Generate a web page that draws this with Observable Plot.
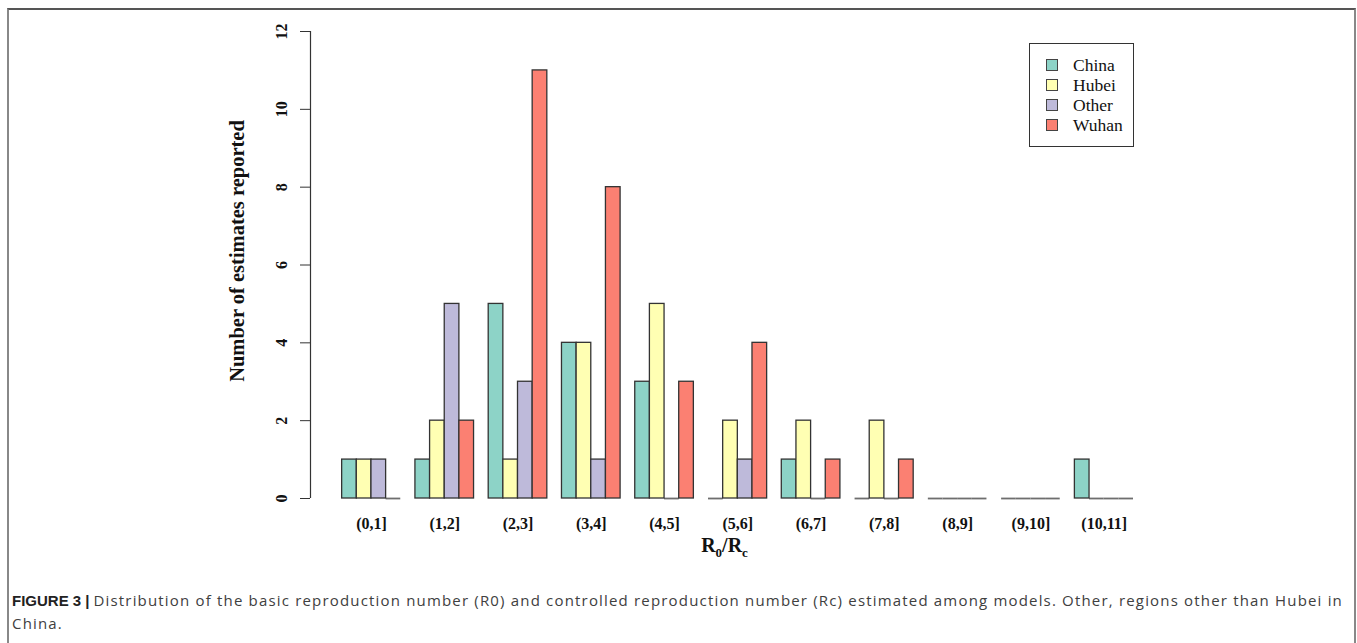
<!DOCTYPE html>
<html><head><meta charset="utf-8">
<script src="https://cdn.jsdelivr.net/npm/d3@7"></script>
<script src="https://cdn.jsdelivr.net/npm/@observablehq/plot@0.6"></script>
<style>
body{margin:0;background:#fff;}
#wrap{position:relative;width:1357px;height:643px;overflow:hidden;background:#fff;}
#frame{position:absolute;left:7px;top:8px;width:1345px;height:700px;border-top:2px solid #555;border-left:2px solid #888;border-right:2px solid #888;}
#chart{position:absolute;left:0;top:0;}
#legend{position:absolute;left:1029px;top:43px;width:103px;height:102px;border:1px solid #333;font-family:"Liberation Serif";font-size:17.5px;color:#111;}
.item{position:absolute;left:16px;height:20px;line-height:20px;}
.sw{position:absolute;left:0;top:4px;width:10px;height:10px;border:1px solid #444;}
.lab{position:absolute;left:27px;top:0;white-space:nowrap;}
#caption{position:absolute;left:12px;top:589px;font-family:"Open Sans";font-size:15px;color:#404040;line-height:23px;white-space:nowrap;}
#caption b{color:#222;font-family:"Liberation Sans";font-size:15px;}
</style></head>
<body><div id="wrap"><div id="frame"></div><div id="chart"></div><div id="legend"></div>
<div id="caption"><div id="cap1"><b>FIGURE 3 |</b> <span id="caprest">Distribution of the basic reproduction number (R0) and controlled reproduction number (Rc) estimated among models. Other, regions other than Hubei in</span></div><div id="cap2">China.</div></div></div>
<script>
const categories = ["(0,1]","(1,2]","(2,3]","(3,4]","(4,5]","(5,6]","(6,7]","(7,8]","(8,9]","(9,10]","(10,11]"];
const regions = ["China","Hubei","Other","Wuhan"];
const china = [1,1,5,4,3,0,1,0,0,0,1];
const hubei = [1,2,1,4,5,2,2,2,0,0,0];
const other = [1,5,3,1,0,1,0,0,0,0,0];
const wuhan = [0,2,11,8,3,4,1,1,0,0,0];
const colors = ["#8DD3C7","#FFFFB3","#BEBADA","#FB8072"];
const yTicks = [0,2,4,6,8,10,12];

const series = [china, hubei, other, wuhan];
const groupWidth = regions.length + 1;
const rows = [];
categories.forEach((c, gi) => {
  series.forEach((vals, si) => {
    rows.push({category: c, region: regions[si], value: vals[gi], slot: gi * groupWidth + 1 + si});
  });
});
const nonzero = rows.filter(d => d.value > 0);
const zeros = rows.filter(d => d.value === 0);

const serif = "Liberation Serif";
const plot = Plot.plot({
  width: 1357, height: 570,
  marginLeft: 327, marginRight: 224, marginTop: 31, marginBottom: 72,
  style: {fontFamily: serif, fontSize: "16px", fontWeight: "bold", background: "transparent", color: "#111"},
  x: {domain: [0, categories.length * groupWidth], axis: null},
  y: {domain: [0, 12], axis: null},
  color: {domain: regions, range: colors},
  marks: [
    Plot.ruleY(zeros, {x1: "slot", x2: d => d.slot + 1, y: 0, stroke: "#6e6e6e", strokeWidth: 1.8}),
    Plot.rect(nonzero, {x1: "slot", x2: d => d.slot + 1, y1: 0, y2: "value", fill: "region", stroke: "#333", strokeWidth: 1.3}),
    Plot.ruleX([0], {y1: 0, y2: 12, dx: -17, stroke: "#333", strokeWidth: 1.2}),
    Plot.axisY({ticks: yTicks, anchor: "left", label: null, dx: -17, tickSize: 10, tickPadding: 14, tickRotate: -90, stroke: "#333", fontSize: 16, fontWeight: "bold"}),
    Plot.text(categories, {x: (d, i) => i * groupWidth + 1 + regions.length / 2, y: 0, dy: 25, text: d => d, fontSize: 16, fontWeight: "bold"}),
    Plot.text(["Number of estimates reported"], {frameAnchor: "left", y: 6, dy: -14, dx: -90, rotate: -90, textAnchor: "middle", text: d => d, fontSize: 20.5, fontWeight: "bold"}),
    Plot.text(["R0/Rc"], {frameAnchor: "bottom", dy: 53, dx: -6, text: d => d, fontSize: 20, fontWeight: "bold", className: "xtitle"})
  ]
});
document.getElementById("chart").appendChild(plot);

// subscripts in x title
const t = d3.select(plot).select(".xtitle text");
t.text("");
t.append("tspan").text("R");
t.append("tspan").attr("dy", 5).attr("font-size", 13).text("0");
t.append("tspan").attr("dy", -5).text("/R");
t.append("tspan").attr("dy", 5).attr("font-size", 13).text("c");

// legend
const leg = d3.select("#legend");
regions.forEach((r, i) => {
  const it = leg.append("div").attr("class", "item").style("top", (11 + i * 20) + "px");
  it.append("div").attr("class", "sw").style("background", colors[i]);
  it.append("div").attr("class", "lab").text(r);
});

// caption line fit: spread the first line to the figure width
const rest = document.getElementById("caprest");
const cap1 = document.getElementById("cap1");
const target = 1331;
const w0 = cap1.getBoundingClientRect().width;
const n = rest.textContent.length;
const ls = Math.max(0, (target - w0) / n);
rest.style.letterSpacing = ls + "px";
document.getElementById("cap2").style.letterSpacing = ls + "px";
</script></body></html>
